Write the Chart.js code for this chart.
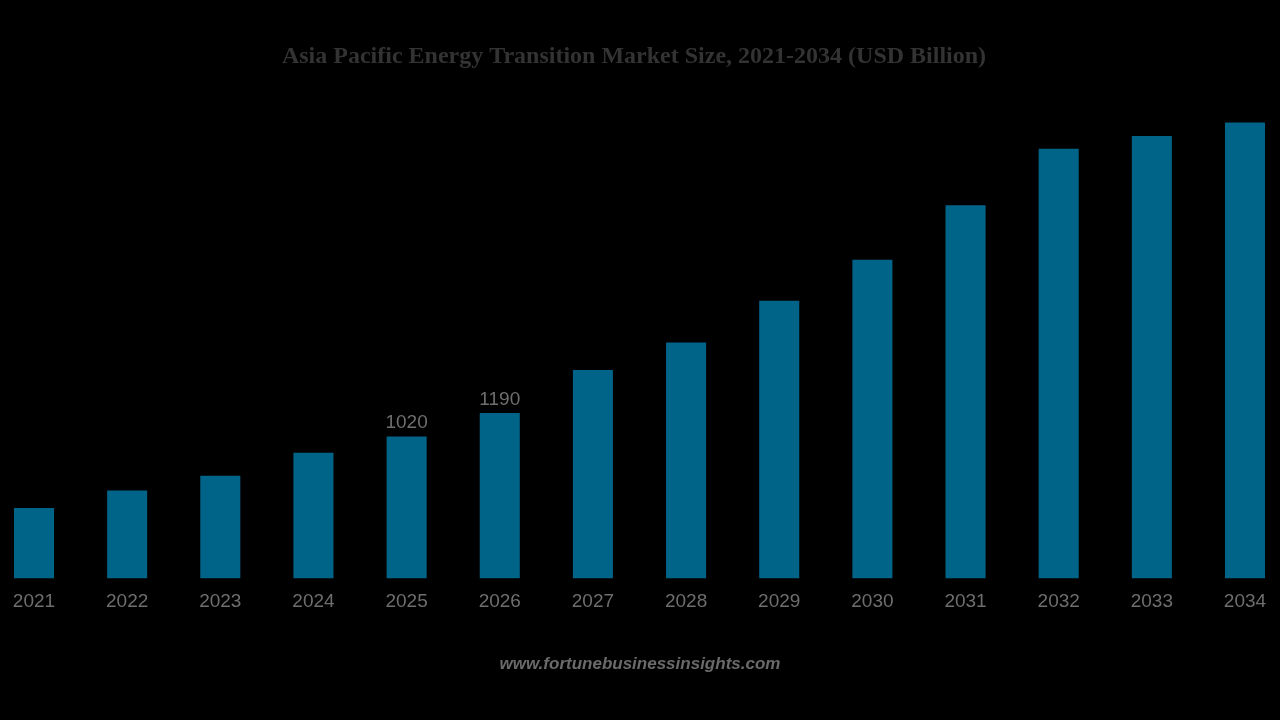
<!DOCTYPE html>
<html><head><meta charset="utf-8">
<script src="https://cdn.jsdelivr.net/npm/chart.js@4"></script>
<style>html,body{margin:0;background:#000;}#c{display:block}</style>
</head><body>
<div style="width:1280px;height:720px"><canvas id="c"></canvas></div>
<script>
const years = ['2021','2022','2023','2024','2025','2026','2027','2028','2029','2030','2031','2032','2033','2034'];
const values = [506,632,737,903,1020,1190,1500,1697,1998,2293,2686,3093,3184,3282];
const labelled = ['2025','2026'];
const titleText = 'Asia Pacific Energy Transition Market Size, 2021-2034 (USD Billion)';
const sourceText = 'www.fortunebusinessinsights.com';

const extras = {
  id:'extras',
  afterDatasetsDraw(chart){
    const ctx = chart.ctx;
    const meta = chart.getDatasetMeta(0);
    ctx.save();
    ctx.fillStyle = '#6e6e6e';
    ctx.font = '19px "Liberation Sans", Arial, sans-serif';
    ctx.textAlign = 'center'; ctx.textBaseline = 'bottom';
    years.forEach((y,i)=>{
      if(labelled.includes(y)){
        const el = meta.data[i];
        ctx.fillText(String(values[i]), el.x, el.y - 4);
      }
    });
    ctx.fillStyle = '#333';
    ctx.font = 'bold 24px "Liberation Serif", "Times New Roman", serif';
    ctx.textBaseline = 'middle';
    ctx.fillText(titleText, 634, 57);
    ctx.fillStyle = '#6a6a6a';
    ctx.font = 'italic bold 17px "Liberation Sans", Arial, sans-serif';
    ctx.fillText(sourceText, 640, 664);
    ctx.restore();
  }
};

new Chart(document.getElementById('c'), {
  type:'bar',
  data:{labels:years, datasets:[{data:values, backgroundColor:'#006388', barPercentage:0.86, categoryPercentage:0.5, clip:false}]},
  options:{
    responsive:true, maintainAspectRatio:false, animation:false,
    layout:{padding:{top:106,bottom:95,left:34,right:35}},
    plugins:{legend:{display:false},title:{display:false},tooltip:{enabled:false}},
    scales:{
      x:{offset:false, grid:{display:false,drawTicks:false}, border:{display:false},
         ticks:{color:'#6e6e6e',padding:12,maxRotation:0,autoSkip:false,font:{size:19,family:'"Liberation Sans", Arial, sans-serif'}}},
      y:{display:false,min:0,max:3400}
    }
  },
  plugins:[extras]
});
</script>
</body></html>
